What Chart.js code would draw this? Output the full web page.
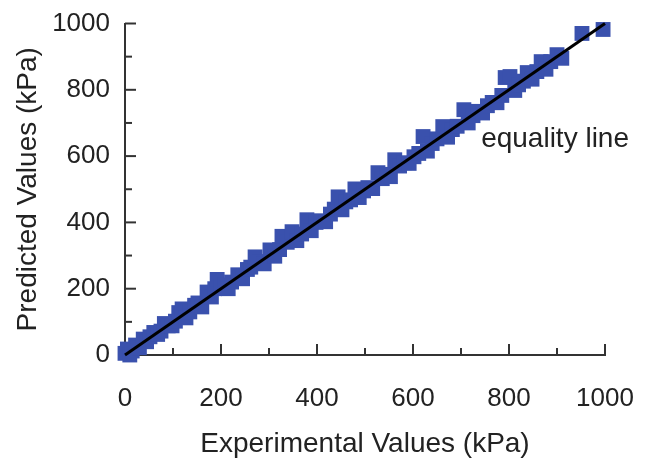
<!DOCTYPE html>
<html>
<head>
<meta charset="utf-8">
<script src="https://cdn.jsdelivr.net/npm/chart.js@4.4.1/dist/chart.umd.min.js"></script>
<style>
  html, body { margin: 0; padding: 0; background: #fff; }
  #wrap { width: 645px; height: 461px; }
</style>
</head>
<body>
<div id="wrap"><canvas id="chart" width="645" height="461"></canvas></div>
<script>
// experimental vs predicted (kPa)
const experimental = [0, 5, 10, 15, 22, 30, 38, 45, 52, 60, 68, 75, 82, 90, 98, 105, 112, 119, 127, 135,
  145, 152, 160, 171, 180, 187, 192, 200, 208, 215, 222, 235, 245, 255, 262, 271, 280, 290, 302, 312,
  322, 327, 338, 348, 358, 368, 379, 388, 398, 408, 418, 428, 436, 444, 452, 460, 470, 479, 488, 497,
  506, 516, 527, 536, 545, 553, 562, 572, 582, 592, 602, 612, 621, 630, 640, 650, 662, 672, 682, 692,
  706, 715, 725, 735, 745, 755, 765, 775, 785, 792, 802, 812, 820, 830, 838, 848, 858, 867, 877, 887,
  900, 910, 952, 996];
const predicted = [5, 18, 0, 12, 30, 22, 48, 40, 55, 68, 62, 72, 95, 88, 88, 102, 128, 139, 112, 130,
  150, 157, 145, 190, 175, 200, 228, 205, 211, 200, 220, 242, 230, 258, 265, 296, 282, 275, 317, 298,
  318, 358, 340, 372, 345, 365, 408, 375, 400, 405, 402, 425, 440, 477, 438, 462, 468, 501, 475, 495,
  505, 502, 550, 532, 545, 538, 589, 570, 580, 578, 598, 608, 659, 615, 638, 652, 689, 657, 680, 690,
  740, 700, 722, 735, 730, 752, 762, 761, 783, 837, 840, 798, 815, 826, 852, 832, 855, 885, 862, 885,
  906, 895, 970, 982];
const equality = [0, 1000];
const tickLabels = [0, 200, 400, 600, 800, 1000];
const tickMarks = [100, 200, 300, 400, 500, 600, 700, 800, 900, 1000];

const points = experimental.map((v, i) => ({ x: v, y: predicted[i] }));
const lineData = equality.map(v => ({ x: v, y: v }));

const textColor = '#222';
const axisColor = '#333';
const fontFamily = '"Liberation Sans", Arial, sans-serif';

const innerTicks = {
  id: 'innerTicks',
  beforeDatasetsDraw(chart) {
    const { ctx, scales: { x, y } } = chart;
    const x0 = x.getPixelForValue(0);
    const y0 = y.getPixelForValue(0);
    ctx.save();
    ctx.strokeStyle = axisColor;
    ctx.lineWidth = 2;
    tickMarks.forEach(v => {
      const len = v % 200 === 0 ? 11 : 7;
      const px = x.getPixelForValue(v);
      ctx.beginPath();
      ctx.moveTo(px, y0);
      ctx.lineTo(px, y0 - len);
      ctx.stroke();
      const py = y.getPixelForValue(v);
      ctx.beginPath();
      ctx.moveTo(x0, py);
      ctx.lineTo(x0 + len, py);
      ctx.stroke();
    });
    ctx.restore();
  },
  afterDraw(chart) {
    const { ctx, scales: { x, y } } = chart;
    ctx.save();
    ctx.fillStyle = textColor;
    ctx.font = '28px ' + fontFamily;
    ctx.textAlign = 'center';
    ctx.textBaseline = 'middle';
    ctx.fillText('equality line', x.getPixelForValue(896), y.getPixelForValue(650));
    ctx.restore();
  }
};

new Chart(document.getElementById('chart'), {
  type: 'scatter',
  data: {
    datasets: [
      {
        type: 'line',
        label: 'equality line',
        data: lineData,
        borderColor: '#000',
        borderWidth: 3,
        pointRadius: 0,
        fill: false,
        clip: false
      },
      {
        label: 'points',
        data: points,
        pointStyle: 'rect',
        pointRadius: 10.5,
        pointHoverRadius: 10.5,
        backgroundColor: '#3a51ad',
        borderWidth: 0,
        clip: false
      }
    ]
  },
  plugins: [innerTicks],
  options: {
    responsive: false,
    animation: false,
    layout: { padding: { left: 0, right: 40, top: 23.5, bottom: 0 } },
    plugins: { legend: { display: false }, tooltip: { enabled: false } },
    scales: {
      x: {
        type: 'linear',
        min: 0,
        max: 1000,
        grid: { display: false, drawTicks: false },
        border: { display: true, color: axisColor, width: 2 },
        afterBuildTicks: s => { s.ticks = tickLabels.map(v => ({ value: v })); },
        afterFit: s => { s.height = 106; s.paddingLeft = 0; s.paddingRight = 0; },
        ticks: {
          padding: 28,
          color: textColor,
          maxRotation: 0,
          autoSkip: false,
          callback: v => String(v),
          font: { family: fontFamily, size: 26 }
        },
        title: {
          display: true,
          text: 'Experimental Values (kPa)',
          color: textColor,
          padding: 0,
          font: { family: fontFamily, size: 28 }
        }
      },
      y: {
        type: 'linear',
        min: 0,
        max: 1000,
        grid: { display: false, drawTicks: false },
        border: { display: true, color: axisColor, width: 2 },
        afterBuildTicks: s => { s.ticks = tickLabels.map(v => ({ value: v })); },
        afterFit: s => { s.width = 125; s.paddingTop = 0; s.paddingBottom = 0; },
        ticks: {
          padding: 15,
          color: textColor,
          autoSkip: false,
          callback: v => String(v),
          font: { family: fontFamily, size: 26 }
        },
        title: {
          display: true,
          text: 'Predicted Values (kPa)',
          color: textColor,
          padding: { top: 11, bottom: 0 },
          font: { family: fontFamily, size: 28 }
        }
      }
    }
  }
});
</script>
</body>
</html>
